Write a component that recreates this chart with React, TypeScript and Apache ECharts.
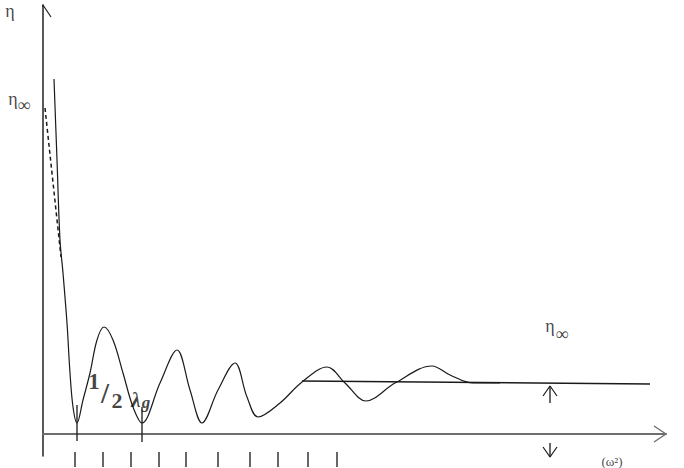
import React, { useEffect, useRef } from "react";
import * as echarts from "echarts";

// Main oscillating curve (x: ω-units, y: η-units)
const curveX = [1.1, 1.4, 1.7, 2.0, 2.4, 2.7, 3.0, 3.4, 4.0, 4.7, 5.4, 6.1, 7.0, 8.0, 9.0, 9.9, 11.7, 13.4, 14.7, 15.9, 17.5, 19.2, 20.4, 21.5, 23.7, 25.9, 28.4, 30.2, 32.3, 35.2, 38.9, 40.7, 43.0, 45.7];
const curveY = [35.5, 27.4, 19.4, 16.1, 11.1, 6.1, 2.7, 1.1, 3.4, 6.1, 9.4, 10.7, 9.4, 6.1, 2.7, 1.1, 5.1, 8.4, 4.4, 1.1, 4.4, 7.1, 3.7, 1.7, 3.1, 5.2, 6.7, 5.1, 3.3, 5.1, 6.8, 5.9, 5.1, 5.1];

// Dashed asymptote near the origin
const dashX = [0.2, 1.8];
const dashY = [32.6, 17.7];

// η∞ plateau line
const plateauX = [25.9, 60.7];
const plateauY = [5.3, 5.0];

// Half-wavelength markers at the first two minima
const markerX = [3.4, 9.9];
const markerTop = [2.9, 2.7];
const markerBottom = [-0.7, -0.8];

// Tick marks below the frequency axis
const tickX = [3.2, 6.0, 8.8, 11.6, 14.3, 17.5, 20.7, 23.5, 26.5, 29.4];
const tickY = -2.55;

// Axis extents
const xMin = 0;
const xMax = 62.3;
const yMin = -2.2;
const yMax = 42.9;

// Arrow heads (open chevrons): [armA, tip, armB]
const yArrow = [[-0.8, 41.7], [0, 42.9], [0.8, 41.7]];
const xArrow = [[61.1, 0.8], [62.3, 0], [61.1, -0.8]];
const upShaft = [[50.7, 3.1], [50.7, 4.8]];
const upHead = [[50.0, 3.8], [50.7, 4.8], [51.4, 3.8]];
const downShaft = [[50.7, -0.9], [50.7, -2.3]];
const downHead = [[50.0, -1.3], [50.7, -2.3], [51.4, -1.3]];

// Text labels
const labelText = ["η", "η", "∞", "η", "∞", "1", "/", "2", "λ", "g", "(ω²)"];
const labelX = [-3.3, -3.0, -1.9, 50.7, 51.9, 5.1, 6.2, 7.4, 9.3, 10.3, 56.9];
const labelY = [42.3, 33.5, 32.9, 10.8, 10.0, 5.3, 4.1, 3.4, 3.4, 3.15, -2.75];

const serif = "'Liberation Serif', 'Times New Roman', serif";
const labelStyles: any[] = [
  { fontSize: 18 },
  { fontSize: 18 },
  { fontSize: 18 },
  { fontSize: 18 },
  { fontSize: 18 },
  { fontSize: 23, fontWeight: "bold" },
  { fontSize: 29, fontWeight: "bold" },
  { fontSize: 22, fontWeight: "bold" },
  { fontSize: 21, fontWeight: "bold", fontStyle: "italic" },
  { fontSize: 17, fontWeight: "bold", fontStyle: "italic" },
  { fontSize: 13 },
];

const ink = "#1a1a1a";

function seg(points: number[][], width = 1.3, color = ink, extra: any = {}) {
  return {
    type: "line",
    data: points,
    symbol: "none",
    clip: false,
    silent: true,
    lineStyle: { color, width, ...extra },
    z: 3,
  };
}

export default function App() {
  const ref = useRef<HTMLDivElement>(null);

  useEffect(() => {
    if (!ref.current) return;
    const chart = echarts.init(ref.current, undefined, { renderer: "svg" });

    const curve = curveX.map((x, i) => [x, curveY[i]]);
    const dash = dashX.map((x, i) => [x, dashY[i]]);
    const plateau = plateauX.map((x, i) => [x, plateauY[i]]);
    const markers = markerX.map((x, i) => seg([[x, markerTop[i]], [x, markerBottom[i]]], 1.3));

    const labels = labelText.map((t, i) => ({
      name: t,
      value: [labelX[i], labelY[i]],
      label: {
        show: true,
        position: "inside",
        formatter: "{b}",
        color: "#111",
        fontFamily: serif,
        ...labelStyles[i],
      },
    }));

    chart.setOption({
      animation: false,
      backgroundColor: "#ffffff",
      grid: { left: 43, right: 18, top: 5, bottom: 12 },
      xAxis: {
        type: "value",
        min: xMin,
        max: xMax,
        axisLine: { show: true, onZero: true, lineStyle: { color: "#6e6e6e", width: 2 } },
        axisTick: { show: false },
        axisLabel: { show: false },
        splitLine: { show: false },
      },
      yAxis: {
        type: "value",
        min: yMin,
        max: yMax,
        axisLine: { show: true, onZero: true, lineStyle: { color: "#222", width: 1.5 } },
        axisTick: { show: false },
        axisLabel: { show: false },
        splitLine: { show: false },
      },
      series: [
        {
          type: "line",
          data: curve,
          smooth: 0.35,
          symbol: "none",
          clip: false,
          silent: true,
          lineStyle: { color: ink, width: 1.2 },
          z: 4,
        },
        seg(dash, 1.5, ink, { type: [4, 3] }),
        seg(plateau, 1.6, ink),
        ...markers,
        seg(yArrow, 1.2, "#222"),
        seg(xArrow, 1.4, "#6e6e6e"),
        seg(upShaft, 1.3),
        seg(upHead, 1.2),
        seg(downShaft, 1.3),
        seg(downHead, 1.2),
        {
          type: "scatter",
          data: tickX.map((x) => [x, tickY]),
          symbol: "rect",
          symbolSize: [1.6, 15],
          clip: false,
          silent: true,
          itemStyle: { color: "#111" },
        },
        {
          type: "scatter",
          data: labels,
          symbolSize: 0,
          clip: false,
          silent: true,
          itemStyle: { color: "transparent" },
          z: 6,
        },
      ],
    });

    return () => chart.dispose();
  }, []);

  return (
    <div
      ref={ref}
      style={{ position: "fixed", left: 0, top: 0, width: 684, height: 468, background: "#fff" }}
    />
  );
}
